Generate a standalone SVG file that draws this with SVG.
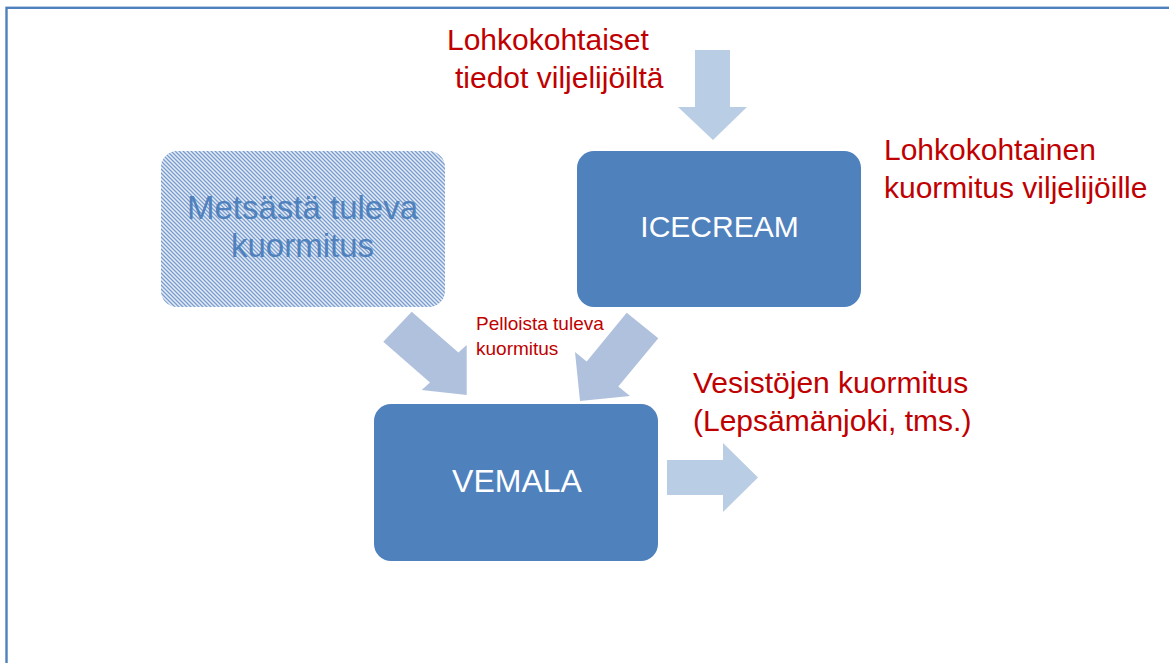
<svg xmlns="http://www.w3.org/2000/svg" width="1169" height="663" viewBox="0 0 1169 663">
<style>
.box{fill:#4F81BD;}
.hatch{fill:url(#hatch);}
.arrow{fill:#B9CDE5;}
.darrow{fill:#B0C1DD;}
.red{font-family:"Liberation Sans",Arial,sans-serif;fill:#C00000;font-size:30px;}
.small{font-size:19px;}
.wt{font-family:"Liberation Sans",Arial,sans-serif;fill:#FFFFFF;font-size:30px;text-anchor:middle;}
.bt{font-family:"Liberation Sans",Arial,sans-serif;fill:#4F81BD;font-size:33px;text-anchor:middle;}
</style>
<defs>
<pattern id="hatch" width="4" height="4" patternUnits="userSpaceOnUse">
<rect width="4" height="4" fill="#E6EDF7"/>
<path d="M-1,-1 L5,5 M-1,3 L1,5 M3,-1 L5,1" stroke="#7A9DD0" stroke-width="1.3"/>
</pattern>
</defs>
<rect width="1169" height="663" fill="#FFFFFF"/>
<rect x="6.5" y="7.8" width="1200" height="700" fill="none" stroke="#4F81BD" stroke-width="2.4"/>

<g id="connectors">
<polygon class="arrow" points="695,50 730,50 730,107 747,107 713,140 678,107 695,107"/>
<polygon class="darrow" points="411.7,311.7 458.4,352.5 466.7,345 466.7,395 421.7,390 430,382.5 383.3,341.7"/>
<polygon class="darrow" points="626.7,312.7 658.3,338.3 618.3,386.6 630,396 580,401 575,352 586.7,361.4"/>
<polygon class="arrow" points="667,460 723,460 723,443 758,477.5 723,512 723,495 667,495"/>
</g>

<g id="metsasta">
<rect class="hatch" x="161" y="151" width="284" height="156" rx="16"/>
<text class="bt" x="302.5" y="219">Metsästä tuleva</text>
<text class="bt" x="302.5" y="257">kuormitus</text>
</g>

<g id="icecream">
<rect class="box" x="577" y="151" width="284" height="156" rx="17"/>
<text class="wt" x="719.5" y="237">ICECREAM</text>
</g>

<g id="vemala">
<rect class="box" x="374" y="404" width="284" height="157" rx="17"/>
<text class="wt" x="517" y="492" style="font-size:32px">VEMALA</text>
</g>

<g id="label-lohkokohtaiset">
<text class="red" x="447" y="50">Lohkokohtaiset</text>
<text class="red" x="455" y="88">tiedot viljelijöiltä</text>
</g>

<g id="label-lohkokohtainen">
<text class="red" x="884" y="160">Lohkokohtainen</text>
<text class="red" x="884" y="198">kuormitus viljelijöille</text>
</g>

<g id="label-pelloista">
<text class="red small" x="476" y="330">Pelloista tuleva</text>
<text class="red small" x="476" y="355">kuormitus</text>
</g>

<g id="label-vesistojen">
<text class="red" x="693" y="393">Vesistöjen kuormitus</text>
<text class="red" x="693" y="431">(Lepsämänjoki, tms.)</text>
</g>
</svg>
